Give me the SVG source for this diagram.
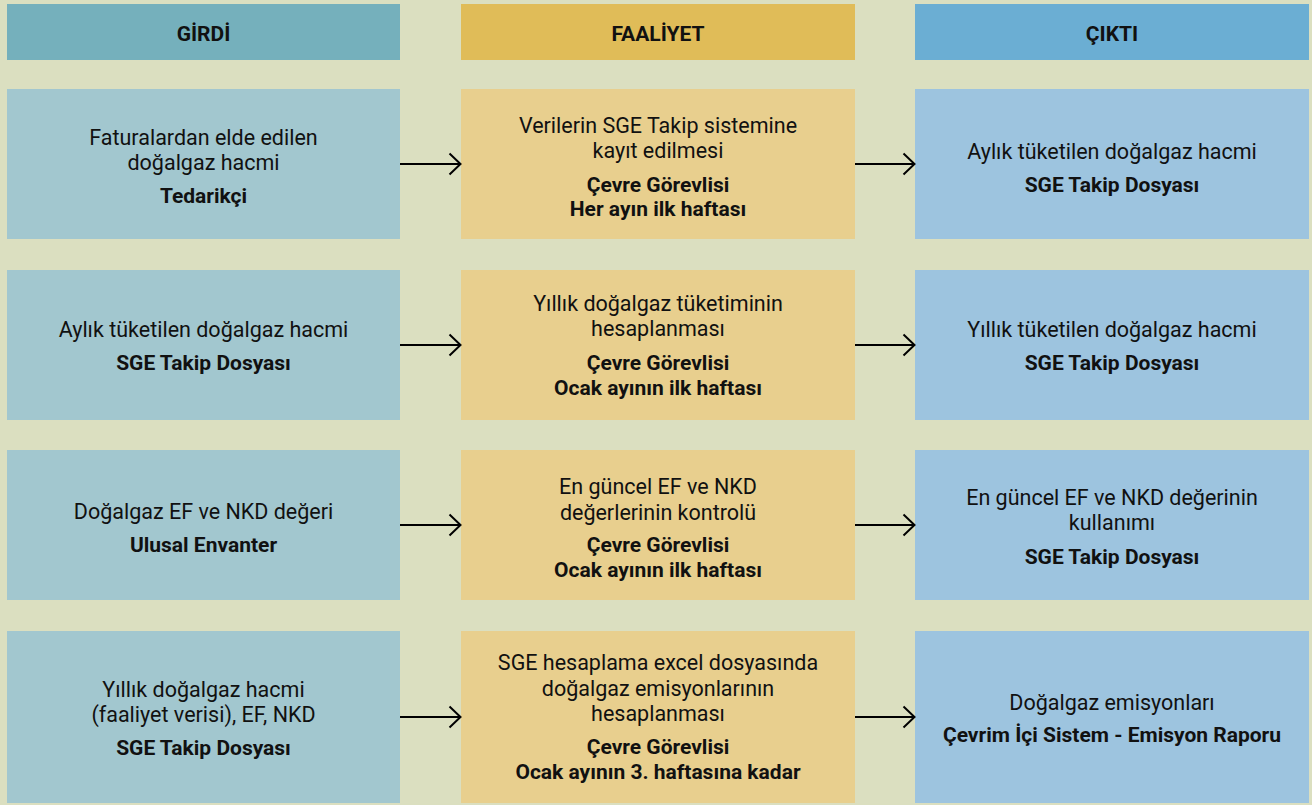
<svg xmlns="http://www.w3.org/2000/svg" width="1312" height="805" viewBox="0 0 1312 805">
  <style>
    .bg { fill: #DBDFC0; }
    .hin { fill: #75B0BC; }
    .hact { fill: #E0BC58; }
    .hout { fill: #6BAED3; }
    .bin { fill: #A2C7CF; }
    .bact { fill: #E8CF8E; }
    .bout { fill: #9DC4DF; }
    text { font-family: Roboto, "Noto Sans", "DejaVu Sans", sans-serif; fill: #111; text-anchor: middle; }
    .h { font-size: 21px; font-weight: bold; }
    .t { font-size: 21.5px; }
    .b { font-size: 21px; font-weight: bold; }
    .conn { stroke: #000; stroke-width: 2; fill: none; }
  </style>
  <defs>
    <marker id="arrow" viewBox="0 0 14 24" refX="13" refY="12" markerWidth="14" markerHeight="24" markerUnits="userSpaceOnUse" orient="auto">
      <path d="M1.5 1.5 L12.5 12 L1.5 22.5" fill="none" stroke="#000" stroke-width="2"/>
    </marker>
  </defs>

  <rect class="bg" x="0" y="0" width="1312" height="805"/>

  <!-- column headers -->
  <g id="header-girdi">
    <rect class="hin" x="7" y="4" width="393" height="56"/>
    <text class="h" x="203.5" y="40.5">GİRDİ</text>
  </g>
  <g id="header-faaliyet">
    <rect class="hact" x="461" y="4" width="394" height="56"/>
    <text class="h" x="658" y="40.5">FAALİYET</text>
  </g>
  <g id="header-cikti">
    <rect class="hout" x="915" y="4" width="394" height="56"/>
    <text class="h" x="1112" y="40.5">ÇIKTI</text>
  </g>

  <!-- row 1 -->
  <g id="in-1">
    <rect class="bin" x="7" y="89" width="393" height="150"/>
    <text class="t" x="203.5" y="145">Faturalardan elde edilen</text>
    <text class="t" x="203.5" y="170">doğalgaz hacmi</text>
    <text class="b" x="203.5" y="203">Tedarikçi</text>
  </g>
  <g id="act-1">
    <rect class="bact" x="461" y="89" width="394" height="150"/>
    <text class="t" x="658" y="132.5">Verilerin SGE Takip sistemine</text>
    <text class="t" x="658" y="157.5">kayıt edilmesi</text>
    <text class="b" x="658" y="191.5">Çevre Görevlisi</text>
    <text class="b" x="658" y="215.5">Her ayın ilk haftası</text>
  </g>
  <g id="out-1">
    <rect class="bout" x="915" y="89" width="394" height="150"/>
    <text class="t" x="1112" y="159">Aylık tüketilen doğalgaz hacmi</text>
    <text class="b" x="1112" y="192">SGE Takip Dosyası</text>
  </g>

  <!-- row 2 -->
  <g id="in-2">
    <rect class="bin" x="7" y="270" width="393" height="150"/>
    <text class="t" x="203.5" y="337">Aylık tüketilen doğalgaz hacmi</text>
    <text class="b" x="203.5" y="370">SGE Takip Dosyası</text>
  </g>
  <g id="act-2">
    <rect class="bact" x="461" y="270" width="394" height="150"/>
    <text class="t" x="658" y="311">Yıllık doğalgaz tüketiminin</text>
    <text class="t" x="658" y="336">hesaplanması</text>
    <text class="b" x="658" y="370">Çevre Görevlisi</text>
    <text class="b" x="658" y="395">Ocak ayının ilk haftası</text>
  </g>
  <g id="out-2">
    <rect class="bout" x="915" y="270" width="394" height="150"/>
    <text class="t" x="1112" y="337">Yıllık tüketilen doğalgaz hacmi</text>
    <text class="b" x="1112" y="370">SGE Takip Dosyası</text>
  </g>

  <!-- row 3 -->
  <g id="in-3">
    <rect class="bin" x="7" y="450" width="393" height="150"/>
    <text class="t" x="203.5" y="519">Doğalgaz EF ve NKD değeri</text>
    <text class="b" x="203.5" y="552">Ulusal Envanter</text>
  </g>
  <g id="act-3">
    <rect class="bact" x="461" y="450" width="394" height="150"/>
    <text class="t" x="658" y="494">En güncel EF ve NKD</text>
    <text class="t" x="658" y="520">değerlerinin kontrolü</text>
    <text class="b" x="658" y="552">Çevre Görevlisi</text>
    <text class="b" x="658" y="577">Ocak ayının ilk haftası</text>
  </g>
  <g id="out-3">
    <rect class="bout" x="915" y="450" width="394" height="150"/>
    <text class="t" x="1112" y="505">En güncel EF ve NKD değerinin</text>
    <text class="t" x="1112" y="530">kullanımı</text>
    <text class="b" x="1112" y="564">SGE Takip Dosyası</text>
  </g>

  <!-- row 4 -->
  <g id="in-4">
    <rect class="bin" x="7" y="631" width="393" height="172"/>
    <text class="t" x="203.5" y="697">Yıllık doğalgaz hacmi</text>
    <text class="t" x="203.5" y="722">(faaliyet verisi), EF, NKD</text>
    <text class="b" x="203.5" y="755">SGE Takip Dosyası</text>
  </g>
  <g id="act-4">
    <rect class="bact" x="461" y="631" width="394" height="172"/>
    <text class="t" x="658" y="670">SGE hesaplama excel dosyasında</text>
    <text class="t" x="658" y="696">doğalgaz emisyonlarının</text>
    <text class="t" x="658" y="721">hesaplanması</text>
    <text class="b" x="658" y="754">Çevre Görevlisi</text>
    <text class="b" x="658" y="779">Ocak ayının 3. haftasına kadar</text>
  </g>
  <g id="out-4">
    <rect class="bout" x="915" y="631" width="394" height="172"/>
    <text class="t" x="1112" y="709.5">Doğalgaz emisyonları</text>
    <text class="b" x="1112" y="742">Çevrim İçi Sistem - Emisyon Raporu</text>
  </g>

  <!-- connectors -->
  <g id="connectors">
    <line class="conn" x1="400" y1="164" x2="461" y2="164" marker-end="url(#arrow)"/>
    <line class="conn" x1="855" y1="164" x2="915" y2="164" marker-end="url(#arrow)"/>
    <line class="conn" x1="400" y1="345" x2="461" y2="345" marker-end="url(#arrow)"/>
    <line class="conn" x1="855" y1="345" x2="915" y2="345" marker-end="url(#arrow)"/>
    <line class="conn" x1="400" y1="525" x2="461" y2="525" marker-end="url(#arrow)"/>
    <line class="conn" x1="855" y1="525" x2="915" y2="525" marker-end="url(#arrow)"/>
    <line class="conn" x1="400" y1="717" x2="461" y2="717" marker-end="url(#arrow)"/>
    <line class="conn" x1="855" y1="717" x2="915" y2="717" marker-end="url(#arrow)"/>
  </g>
</svg>
